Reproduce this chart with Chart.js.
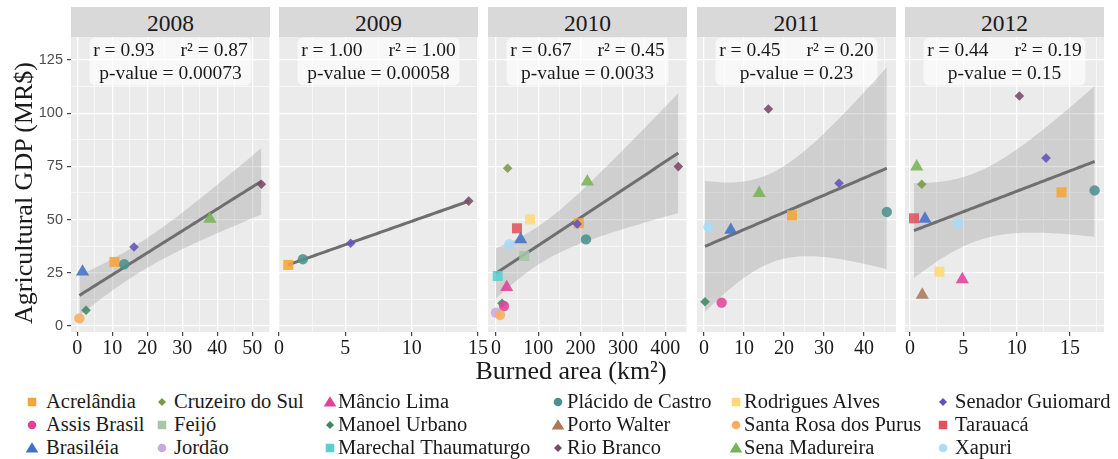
<!DOCTYPE html>
<html>
<head>
<meta charset="utf-8">
<script src="https://cdn.jsdelivr.net/npm/chart.js@4"></script>
<style>
  html, body { margin: 0; padding: 0; background: #ffffff; }
  #fig { position: relative; width: 1118px; height: 459px; overflow: hidden;
         font-family: 'Liberation Serif', 'DejaVu Serif', serif; color: #1a1a1a; }
  #fig canvas { position: absolute; }
  .strip { position: absolute; top: 7px; height: 30px; background: #d9d9d9; text-align: center;
           font-size: 23.5px; line-height: 30px; padding-top: 1px; box-sizing: border-box; }
  .stat { position: absolute; text-align: center; font-size: 19.5px; line-height: 22px; white-space: nowrap; }
  .stat span + span { margin-left: 26px; }
  .axis-title { position: absolute; font-size: 26px; line-height: 26px; white-space: nowrap; }
  .leg-text { position: absolute; font-size: 20.5px; line-height: 23px; white-space: nowrap; }
  .leg-key { position: absolute; width: 14px; height: 14px; }
</style>
</head>
<body>
<div id="fig"></div>
<script>
// ---- municipalities (legend order) and their marker styles ----
const municipalities = ['Acrelândia', 'Assis Brasil', 'Brasiléia', 'Cruzeiro do Sul', 'Feijó', 'Jordão',
  'Mâncio Lima', 'Manoel Urbano', 'Marechal Thaumaturgo', 'Plácido de Castro', 'Porto Walter', 'Rio Branco',
  'Rodrigues Alves', 'Santa Rosa dos Purus', 'Sena Madureira', 'Senador Guiomard', 'Tarauacá', 'Xapuri'];
const markerShapes = ['rect', 'circle', 'triangle', 'rectRot', 'rect', 'circle', 'triangle', 'rectRot', 'rect',
  'circle', 'triangle', 'rectRot', 'rect', 'circle', 'triangle', 'rectRot', 'rect', 'circle'];
const markerColors = ['#F5A53A', '#E2439A', '#4171C6', '#7A9A48', '#A6C6A6', '#C6AADE', '#E1409C', '#3D8767',
  '#5ACFD0', '#4C918D', '#A97A5A', '#7A4868', '#FFD873', '#F8AE5E', '#78B257', '#6650BF', '#E1525F', '#A9DCF8'];

// ---- burned area (km²) and agricultural GDP (MR$) per year ----
const years = ['2008', '2009', '2010', '2011', '2012'];

const towns2008  = ['Brasiléia', 'Acrelândia', 'Plácido de Castro', 'Senador Guiomard', 'Sena Madureira', 'Rio Branco', 'Manoel Urbano', 'Santa Rosa dos Purus'];
const burned2008 = [1.5, 10.6, 13.4, 16.2, 37.9, 52.6, 2.5, 0.6];
const gdp2008    = [25.5, 30.1, 29.0, 37.1, 50.3, 66.6, 7.4, 3.6];

const towns2009  = ['Acrelândia', 'Plácido de Castro', 'Senador Guiomard', 'Rio Branco'];
const burned2009 = [0.7, 1.8, 5.4, 14.3];
const gdp2009    = [28.7, 31.4, 38.9, 58.7];

const towns2010  = ['Cruzeiro do Sul', 'Sena Madureira', 'Rio Branco', 'Rodrigues Alves', 'Tarauacá', 'Brasiléia',
  'Xapuri', 'Feijó', 'Acrelândia', 'Senador Guiomard', 'Plácido de Castro', 'Marechal Thaumaturgo', 'Mâncio Lima',
  'Manoel Urbano', 'Assis Brasil', 'Jordão', 'Santa Rosa dos Purus'];
const burned2010 = [27.6, 216, 431, 80.4, 49.6, 58.3, 31.5, 66.9, 196, 192, 212.8, 4, 25.3, 14.2, 18.9, 0, 9.5];
const gdp2010    = [74.1, 67.8, 74.9, 50.1, 45.9, 40.7, 38.4, 32.9, 48.3, 47.9, 40.7, 23.5, 18.2, 10.7, 9.4, 6.3, 5.2];

const towns2011  = ['Rio Branco', 'Senador Guiomard', 'Sena Madureira', 'Acrelândia', 'Plácido de Castro', 'Xapuri', 'Brasiléia', 'Manoel Urbano', 'Assis Brasil'];
const burned2011 = [16.1, 33.75, 13.8, 22, 45.7, 1.1, 6.7, 0.25, 4.4];
const gdp2011    = [102.0, 67.1, 62.4, 52.0, 53.6, 46.5, 45.1, 11.4, 11.0];

const towns2012  = ['Rio Branco', 'Senador Guiomard', 'Sena Madureira', 'Cruzeiro do Sul', 'Acrelândia', 'Plácido de Castro',
  'Tarauacá', 'Brasiléia', 'Xapuri', 'Rodrigues Alves', 'Mâncio Lima', 'Porto Walter'];
const burned2012 = [10.25, 12.75, 0.63, 1.1, 14.2, 17.3, 0.375, 1.4, 4.5, 2.75, 4.9, 1.15];
const gdp2012    = [108.1, 78.9, 74.9, 66.6, 62.8, 63.7, 50.6, 50.3, 48.3, 25.5, 21.9, 14.6];

// ---- correlation summaries printed in each panel ----
const rLabels  = ['0.93', '1.00', '0.67', '0.45', '0.44'];
const r2Labels = ['0.87', '1.00', '0.45', '0.20', '0.19'];
const pLabels  = ['0.00073', '0.00058', '0.0033', '0.23', '0.15'];

// ---- tick labels ----
const yTicks = [0, 25, 50, 75, 100, 125];
const xTicks2008 = [0, 10, 20, 30, 40, 50];
const xTicks2009 = [0, 5, 10, 15];
const xTicks2010 = [0, 100, 200, 300, 400];
const xTicks2011 = [0, 10, 20, 30, 40];
const xTicks2012 = [0, 5, 10, 15];

// two-sided 95% Student t quantiles, df = 1..20
const T975 = [12.706, 4.303, 3.182, 2.776, 2.571, 2.447, 2.365, 2.306, 2.262, 2.228,
              2.201, 2.179, 2.160, 2.145, 2.131, 2.120, 2.110, 2.101, 2.093, 2.086];

const panels = [
  { towns: towns2008, burned: burned2008, gdp: gdp2008, xTicks: xTicks2008, xMin: -1.8,  xMax: 55.06 },
  { towns: towns2009, burned: burned2009, gdp: gdp2009, xTicks: xTicks2009, xMin: 0,     xMax: 15 },
  { towns: towns2010, burned: burned2010, gdp: gdp2010, xTicks: xTicks2010, xMin: -18.9, xMax: 451.5 },
  { towns: towns2011, burned: burned2011, gdp: gdp2011, xTicks: xTicks2011, xMin: -1.75, xMax: 48.0 },
  { towns: towns2012, burned: burned2012, gdp: gdp2012, xTicks: xTicks2012, xMin: -0.47, xMax: 18.18 }
];

// ---- layout ----
const panelLefts = [71, 279, 488, 697, 905];
const panelWidth = 199;
const panelTop = 37, panelBottom = 332;
const yMin = -2.82, yMax = 135.8;
const sidePad = 12, topPad = 10, xAxisHeight = 34, yAxisWidth = 71;

const serif = "'Liberation Serif', 'DejaVu Serif', serif";
const fig = document.getElementById('fig');

// least-squares line with 95% confidence band
function linearFit(xs, ys, steps) {
  const n = xs.length;
  const mx = xs.reduce((s, v) => s + v, 0) / n;
  const my = ys.reduce((s, v) => s + v, 0) / n;
  let sxx = 0, sxy = 0;
  for (let i = 0; i < n; i++) { sxx += (xs[i] - mx) ** 2; sxy += (xs[i] - mx) * (ys[i] - my); }
  const b = sxy / sxx, a = my - b * mx;
  let sse = 0;
  for (let i = 0; i < n; i++) sse += (ys[i] - a - b * xs[i]) ** 2;
  const s = Math.sqrt(sse / (n - 2));
  const t = T975[n - 3];
  const lo = Math.min(...xs), hi = Math.max(...xs);
  const line = [], upper = [], lower = [];
  for (let k = 0; k <= steps; k++) {
    const x = lo + (hi - lo) * k / steps;
    const yh = a + b * x;
    const se = s * Math.sqrt(1 / n + (x - mx) ** 2 / sxx);
    line.push({ x, y: yh });
    upper.push({ x, y: yh + t * se });
    lower.push({ x, y: yh - t * se });
  }
  return { line, upper, lower };
}

// major ticks plus the midway minor grid positions inside the range
function gridValues(major, lo, hi) {
  const step = major[1] - major[0];
  const minor = [];
  for (let v = major[0] - step / 2; v <= major[major.length - 1] + step / 2 + 1e-9; v += step) {
    if (v > lo + 1e-6 && v < hi - 1e-6) minor.push(v);
  }
  return major.filter(v => v >= lo - 1e-9 && v <= hi + 1e-9).concat(minor).sort((p, q) => p - q);
}

const panelFrame = {
  id: 'panelFrame',
  beforeDraw(chart) {
    const { ctx, chartArea: a } = chart;
    ctx.save();
    ctx.fillStyle = '#EBEBEB';
    ctx.fillRect(a.left, a.top, a.width, a.height);
    ctx.restore();
  },
  beforeDatasetsDraw(chart) {
    // translucent box behind the correlation summary
    const { ctx, chartArea: a } = chart;
    const w = 162, h = 48, r = 6;
    const x = (a.left + a.right) / 2 - w / 2, y = a.top + 0.5;
    ctx.save();
    ctx.fillStyle = 'rgba(255,255,255,0.65)';
    ctx.beginPath();
    ctx.roundRect(x, y, w, h, r);
    ctx.fill();
    ctx.restore();
  }
};

panels.forEach((p, i) => {
  const first = i === 0;
  const padL = first ? 0 : sidePad;
  const leftAxis = first ? yAxisWidth : 0;
  const canvas = document.createElement('canvas');
  const cw = padL + leftAxis + panelWidth + sidePad;
  const ch = topPad + (panelBottom - panelTop) + xAxisHeight;
  canvas.width = cw; canvas.height = ch;
  canvas.style.width = cw + 'px'; canvas.style.height = ch + 'px';
  canvas.style.left = (panelLefts[i] - leftAxis - padL) + 'px';
  canvas.style.top = (panelTop - topPad) + 'px';
  fig.appendChild(canvas);

  const fit = linearFit(p.burned, p.gdp, 60);
  const points = p.burned.map((x, k) => ({ x, y: p.gdp[k] }));
  const idx = p.towns.map(t => municipalities.indexOf(t));
  const xMajor = p.xTicks;
  const xGrid = gridValues(xMajor, p.xMin, p.xMax);
  const yGrid = gridValues(yTicks, yMin, yMax);
  const isMajorX = v => xMajor.some(m => Math.abs(m - v) < 1e-9);
  const isMajorY = v => yTicks.some(m => Math.abs(m - v) < 1e-9);
  const radiusOf = j => ({ rect: 7.1, circle: 5.2, triangle: 7.6, rectRot: 4.8 })[markerShapes[j]];

  new Chart(canvas, {
    type: 'scatter',
    data: {
      datasets: [
        { data: fit.lower, showLine: true, borderWidth: 0, pointRadius: 0, fill: false, order: 3 },
        { data: fit.upper, showLine: true, borderWidth: 0, pointRadius: 0, fill: '-1',
          backgroundColor: 'rgba(150,150,150,0.32)', order: 3 },
        { data: fit.line, showLine: true, borderColor: '#6f6f6f', borderWidth: 3, pointRadius: 0, order: 2 },
        { data: points, order: 1,
          pointStyle: idx.map(j => markerShapes[j]),
          backgroundColor: idx.map(j => markerColors[j] + 'E0'),
          borderWidth: 0,
          pointRadius: idx.map(radiusOf),
          pointHoverRadius: idx.map(radiusOf) }
      ]
    },
    options: {
      responsive: false,
      devicePixelRatio: 1,
      animation: false,
      events: [],
      layout: { padding: { left: padL, right: sidePad, top: topPad, bottom: 0 } },
      plugins: { legend: { display: false }, tooltip: { enabled: false }, title: { display: false } },
      scales: {
        x: {
          type: 'linear', position: 'bottom', min: p.xMin, max: p.xMax,
          afterBuildTicks: s => { s.ticks = xGrid.map(v => ({ value: v })); },
          afterFit: s => { s.height = xAxisHeight; s.paddingLeft = 0; s.paddingRight = 0; },
          border: { display: false },
          grid: {
            color: '#FFFFFF',
            lineWidth: c => isMajorX(c.tick.value) ? 1.3 : 0.6,
            tickColor: c => isMajorX(c.tick.value) ? '#333333' : 'rgba(0,0,0,0)',
            tickLength: 4, tickWidth: 1.1
          },
          ticks: {
            autoSkip: false, maxRotation: 0, padding: 1,
            color: '#1a1a1a', font: { family: serif, size: 20 },
            callback: v => isMajorX(v) ? String(v) : ''
          }
        },
        y: {
          type: 'linear', min: yMin, max: yMax,
          afterBuildTicks: s => { s.ticks = yGrid.map(v => ({ value: v })); },
          afterFit: s => { s.width = first ? yAxisWidth : 0; s.paddingTop = 0; s.paddingBottom = 0; },
          border: { display: false },
          grid: {
            color: '#FFFFFF',
            lineWidth: c => isMajorY(c.tick.value) ? 1.3 : 0.6,
            tickColor: c => isMajorY(c.tick.value) ? '#333333' : 'rgba(0,0,0,0)',
            tickLength: 4, tickWidth: 1.1,
            drawTicks: first
          },
          ticks: {
            display: first, autoSkip: false, padding: 4,
            color: '#4D4D4D', font: { family: "'Liberation Sans', Arial, sans-serif", size: 14.5 },
            callback: v => isMajorY(v) ? String(v) : ''
          }
        }
      }
    },
    plugins: [panelFrame]
  });

  // facet strip
  const strip = document.createElement('div');
  strip.className = 'strip';
  strip.style.left = panelLefts[i] + 'px';
  strip.style.width = panelWidth + 'px';
  strip.textContent = years[i];
  fig.appendChild(strip);

  // correlation summary text
  const cx = panelLefts[i] + panelWidth / 2;
  const line1 = document.createElement('div');
  line1.className = 'stat';
  line1.style.left = (cx - 100) + 'px'; line1.style.width = '200px'; line1.style.top = '39px';
  line1.innerHTML = '<span>r = ' + rLabels[i] + '</span><span>r² = ' + r2Labels[i] + '</span>';
  fig.appendChild(line1);
  const line2 = document.createElement('div');
  line2.className = 'stat';
  line2.style.left = (cx - 100) + 'px'; line2.style.width = '200px'; line2.style.top = '61.5px';
  line2.textContent = 'p-value = ' + pLabels[i];
  fig.appendChild(line2);
});

// axis titles
const yTitle = document.createElement('div');
yTitle.className = 'axis-title';
yTitle.textContent = 'Agricultural GDP (MR$)';
yTitle.style.left = '24px'; yTitle.style.top = '193px';
yTitle.style.transform = 'translate(-50%, -50%) rotate(-90deg)';
fig.appendChild(yTitle);

const xTitle = document.createElement('div');
xTitle.className = 'axis-title';
xTitle.textContent = 'Burned area (km²)';
xTitle.style.left = '571px'; xTitle.style.top = '358px';
xTitle.style.transform = 'translateX(-50%)';
fig.appendChild(xTitle);

// legend: three rows, filled column by column
const legendKeyX  = [32, 162, 330, 558, 736, 943];
const legendTextX = [46, 174, 338, 567, 744, 955];
const legendBaseline = [408, 431, 454];

function keySvg(shape, color) {
  let body;
  if (shape === 'rect') body = '<rect x="2.75" y="2.75" width="8.5" height="8.5" fill="' + color + '"/>';
  else if (shape === 'circle') body = '<circle cx="7" cy="7" r="4.3" fill="' + color + '"/>';
  else if (shape === 'triangle') body = '<polygon points="7,1.2 13.3,11.6 0.7,11.6" fill="' + color + '"/>';
  else body = '<polygon points="7,3 11,7 7,11 3,7" fill="' + color + '"/>';
  return '<svg width="14" height="14" viewBox="0 0 14 14">' + body + '</svg>';
}

municipalities.forEach((name, k) => {
  const col = Math.floor(k / 3), row = k % 3;
  const key = document.createElement('div');
  key.className = 'leg-key';
  key.style.left = (legendKeyX[col] - 7) + 'px';
  key.style.top = (legendBaseline[row] - 6 - 7) + 'px';
  key.innerHTML = keySvg(markerShapes[k], markerColors[k]);
  fig.appendChild(key);
  const label = document.createElement('div');
  label.className = 'leg-text';
  label.style.left = legendTextX[col] + 'px';
  label.style.top = (legendBaseline[row] - 18.4) + 'px';
  label.textContent = name;
  fig.appendChild(label);
});
</script>
</body>
</html>
